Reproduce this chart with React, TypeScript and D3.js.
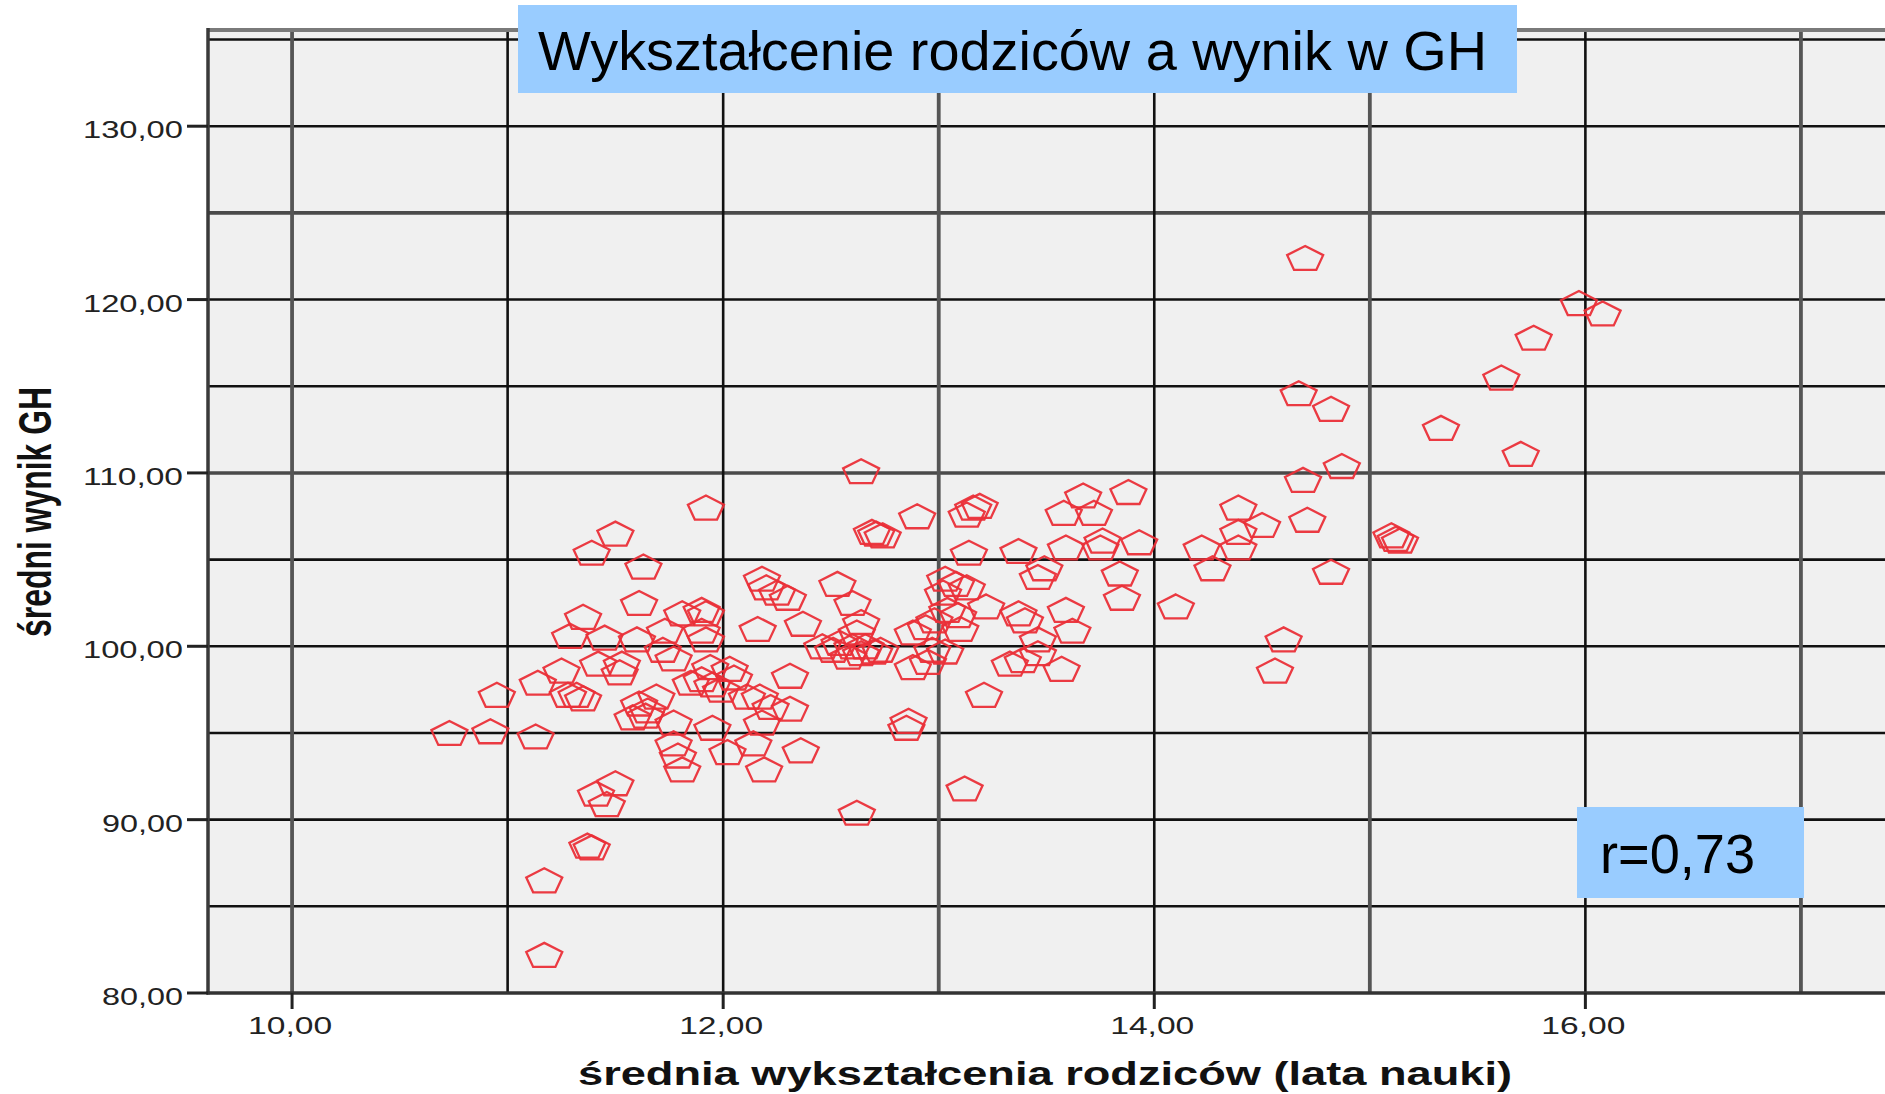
import React from 'react';
import * as d3 from 'd3';

const WIDTH = 1885;
const HEIGHT = 1094;

// średnia wykształcenia rodziców (lata nauki)
const educationYears = [
  10.73, 10.92, 10.95, 11.13, 11.14, 11.17, 11.17, 11.37, 11.39, 11.41,
  11.46, 11.50, 11.25, 11.29, 11.35, 11.45, 11.28, 11.32, 11.35, 11.42,
  11.53, 11.52, 11.39, 11.50, 11.63, 11.61, 11.92, 11.60, 11.73, 11.81,
  11.90, 11.92, 11.90, 11.92, 11.72, 11.77, 11.94, 11.61, 11.65, 11.69,
  11.58, 11.64, 11.77, 11.85, 11.90, 11.95, 11.99, 12.03, 12.05, 12.11,
  12.17, 12.22, 12.31, 12.31, 11.95, 12.02, 12.14, 12.18, 12.36, 12.19,
  11.77, 11.79, 11.81, 12.64, 12.69, 12.71, 12.74, 12.18, 12.20, 12.25,
  12.30, 12.53, 12.60, 12.64, 12.62, 12.16, 12.37, 12.46, 12.51, 12.54,
  12.58, 12.60, 12.64, 12.66, 12.70, 12.73, 12.62, 12.86, 12.85, 13.12,
  13.21, 12.90, 13.13, 13.16, 13.19, 13.67, 13.58, 13.72, 13.14, 13.37,
  13.59, 13.76, 13.75, 13.49, 13.46, 13.03, 13.08, 13.13, 13.02, 13.22,
  13.04, 13.09, 12.98, 12.94, 12.88, 13.10, 13.37, 13.40, 13.59, 13.62,
  13.46, 12.97, 13.03, 12.88, 12.95, 13.33, 13.39, 13.46, 13.57, 13.88,
  13.93, 13.84, 13.85, 14.10, 14.39, 14.50, 14.39, 14.22, 14.39, 14.27,
  14.69, 14.87, 14.71, 14.82, 15.10, 15.12, 15.14, 14.60, 14.56, 14.70,
  15.97, 16.08, 15.76, 15.61, 15.33, 15.70, 14.82, 14.67,
];

// średni wynik GH
const ghScores = [
  95.0, 95.1, 97.2, 94.8, 97.9, 86.5, 82.2, 88.5, 88.4, 91.5,
  90.9, 92.1, 98.6, 100.6, 101.7, 100.5, 97.2, 97.2, 97.0, 99.0,
  99.0, 98.5, 105.4, 106.5, 104.6, 102.5, 108.0, 100.4, 100.9, 101.9,
  102.1, 101.9, 100.9, 100.4, 99.8, 99.3, 98.8, 96.7, 96.3, 97.1,
  95.9, 96.0, 95.6, 97.9, 98.1, 97.8, 97.5, 98.7, 98.2, 97.1,
  97.1, 96.5, 96.4, 98.3, 95.3, 93.9, 94.4, 95.6, 94.0, 92.9,
  94.4, 93.7, 92.9, 110.1, 106.6, 106.5, 106.4, 103.9, 103.4, 103.1,
  102.8, 103.6, 102.5, 101.4, 100.8, 101.0, 101.3, 100.0, 99.8, 100.2,
  99.4, 100.0, 99.6, 100.0, 99.7, 99.8, 90.4, 95.7, 95.3, 91.8,
  97.2, 107.5, 107.6, 108.0, 108.1, 108.7, 107.7, 107.7, 105.4, 105.5,
  105.7, 106.1, 105.7, 104.5, 104.0, 103.9, 103.6, 103.4, 103.1, 102.3,
  102.1, 101.8, 101.5, 101.1, 100.8, 101.0, 101.9, 101.5, 102.1, 100.9,
  100.4, 99.8, 99.7, 98.8, 99.1, 99.0, 99.2, 99.6, 98.7, 108.9,
  106.0, 104.2, 102.8, 102.3, 108.0, 107.0, 106.6, 105.7, 105.7, 104.5,
  109.6, 110.4, 107.3, 104.3, 106.4, 106.2, 106.1, 100.4, 98.6, 122.4,
  119.8, 119.2, 117.8, 115.5, 112.6, 111.1, 113.7, 114.6,
];

const xTickValues = [10, 12, 14, 16];
const yTickValues = [80, 90, 100, 110, 120, 130];
const xGridValues = [10, 11, 12, 13, 14, 15, 16, 17];
const yGridValues = [85, 90, 95, 100, 105, 110, 115, 120, 125, 130, 135];
const heavyXGrid = [10, 13, 15, 17];
const heavyYGrid = [110, 125];

const chartTitle = 'Wykształcenie rodziców a wynik w GH';
const correlationLabel = 'r=0,73';
const xAxisTitle = 'średnia wykształcenia rodziców (lata nauki)';
const yAxisTitle = 'średni wynik GH';

const FONT = '"Liberation Sans", Arial, sans-serif';
const RED = '#ea2f38';
const BOX_BLUE = '#99ccff';

const formatPl = (v: number) => d3.format('.2f')(v).replace('.', ',');

// stretched pentagon, centred on its bounding box
const pentagonPath = (() => {
  const R = 24 / 1.809;
  const sx = 36 / (1.902 * R);
  const dy = 0.0955 * R;
  const pts: [number, number][] = d3.range(5).map((k) => {
    const a = (-90 + k * 72) * Math.PI / 180;
    return [Math.cos(a) * R * sx, Math.sin(a) * R + dy];
  });
  return d3.line().curve(d3.curveLinearClosed)(pts) as string;
})();

export default function App() {
  const ref = React.useRef<SVGSVGElement>(null);

  React.useEffect(() => {
    const svg = d3.select(ref.current);
    svg.selectAll('*').remove();

    const x = d3.scaleLinear().domain([9.61, 17.39]).range([208, 1885]);
    const y = d3.scaleLinear().domain([80, 135.55]).range([993, 30]);
    const [left, right] = x.range();
    const [bottom, top] = y.range();

    // plot background
    svg.append('rect')
      .attr('x', left).attr('y', top)
      .attr('width', right - left).attr('height', bottom - top)
      .attr('fill', '#f0f0f0');

    // grid
    svg.append('g')
      .selectAll('line')
      .data(yGridValues)
      .join('line')
      .attr('x1', left).attr('x2', right)
      .attr('y1', (d) => y(d)).attr('y2', (d) => y(d))
      .attr('stroke', (d) => heavyYGrid.includes(d) ? '#4a4a4a' : '#111')
      .attr('stroke-width', (d) => heavyYGrid.includes(d) ? 3.6 : 2.6);

    svg.append('g')
      .selectAll('line')
      .data(xGridValues)
      .join('line')
      .attr('x1', (d) => x(d)).attr('x2', (d) => x(d))
      .attr('y1', top).attr('y2', bottom)
      .attr('stroke', (d) => heavyXGrid.includes(d) ? '#555' : '#111')
      .attr('stroke-width', (d) => heavyXGrid.includes(d) ? 3.8 : 2.6);

    // frame
    svg.append('line')
      .attr('x1', left).attr('x2', right).attr('y1', top).attr('y2', top)
      .attr('stroke', '#7a7a7a').attr('stroke-width', 4);
    svg.append('line')
      .attr('x1', left).attr('x2', left).attr('y1', top - 2).attr('y2', bottom + 1.5)
      .attr('stroke', '#3a3a3a').attr('stroke-width', 3.5);
    svg.append('line')
      .attr('x1', left - 1.5).attr('x2', right).attr('y1', bottom).attr('y2', bottom)
      .attr('stroke', '#333').attr('stroke-width', 3.5);

    // y axis ticks and labels
    const yAxis = svg.append('g');
    yAxis.selectAll('line')
      .data(yTickValues)
      .join('line')
      .attr('x1', left - 21).attr('x2', left)
      .attr('y1', (d) => y(d)).attr('y2', (d) => y(d))
      .attr('stroke', '#222').attr('stroke-width', 3);
    yAxis.selectAll('text')
      .data(yTickValues)
      .join('text')
      .attr('x', left - 25)
      .attr('y', (d) => y(d) + 12)
      .attr('text-anchor', 'end')
      .attr('font-family', FONT)
      .attr('font-size', 23)
      .attr('fill', '#222')
      .attr('textLength', (d) => (d >= 100 ? 100 : 81))
      .attr('lengthAdjust', 'spacingAndGlyphs')
      .text((d) => formatPl(d));

    // x axis ticks and labels
    const xAxis = svg.append('g');
    xAxis.selectAll('line')
      .data(xTickValues)
      .join('line')
      .attr('x1', (d) => x(d)).attr('x2', (d) => x(d))
      .attr('y1', bottom).attr('y2', bottom + 16)
      .attr('stroke', '#222').attr('stroke-width', 3);
    xAxis.selectAll('text')
      .data(xTickValues)
      .join('text')
      .attr('x', (d) => x(d) - 2)
      .attr('y', bottom + 41)
      .attr('text-anchor', 'middle')
      .attr('font-family', FONT)
      .attr('font-size', 23)
      .attr('fill', '#222')
      .attr('textLength', 84)
      .attr('lengthAdjust', 'spacingAndGlyphs')
      .text((d) => formatPl(d));

    // axis titles
    svg.append('text')
      .attr('x', 1045)
      .attr('y', 1085)
      .attr('text-anchor', 'middle')
      .attr('font-family', FONT)
      .attr('font-weight', 'bold')
      .attr('font-size', 34)
      .attr('fill', '#111')
      .attr('textLength', 934)
      .attr('lengthAdjust', 'spacingAndGlyphs')
      .text(xAxisTitle);

    svg.append('text')
      .attr('transform', 'translate(51,512) scale(1.4,1) rotate(-90)')
      .attr('text-anchor', 'middle')
      .attr('font-family', FONT)
      .attr('font-weight', 'bold')
      .attr('font-size', 33)
      .attr('fill', '#111')
      .attr('textLength', 250)
      .attr('lengthAdjust', 'spacingAndGlyphs')
      .text(yAxisTitle);

    // points
    svg.append('g')
      .selectAll('path')
      .data(educationYears.map((v, i) => [v, ghScores[i]]))
      .join('path')
      .attr('d', pentagonPath)
      .attr('transform', (d) => `translate(${x(d[0])},${y(d[1])})`)
      .attr('fill', 'none')
      .attr('stroke', RED)
      .attr('stroke-width', 2.3)
      .attr('stroke-opacity', 0.95);

    // title box
    svg.append('rect')
      .attr('x', 518).attr('y', 5).attr('width', 999).attr('height', 88)
      .attr('fill', BOX_BLUE);
    svg.append('text')
      .attr('x', 538).attr('y', 70)
      .attr('font-family', FONT)
      .attr('font-size', 55)
      .attr('fill', '#000')
      .attr('textLength', 949)
      .attr('lengthAdjust', 'spacingAndGlyphs')
      .text(chartTitle);

    // correlation box
    svg.append('rect')
      .attr('x', 1577).attr('y', 807).attr('width', 227).attr('height', 91)
      .attr('fill', BOX_BLUE);
    svg.append('text')
      .attr('x', 1600).attr('y', 873)
      .attr('font-family', FONT)
      .attr('font-size', 55)
      .attr('fill', '#000')
      .attr('textLength', 155)
      .attr('lengthAdjust', 'spacingAndGlyphs')
      .text(correlationLabel);
  }, []);

  return (
    <svg
      ref={ref}
      width={WIDTH}
      height={HEIGHT}
      style={{ position: 'absolute', left: 0, top: 0, background: '#fff', display: 'block' }}
    />
  );
}
